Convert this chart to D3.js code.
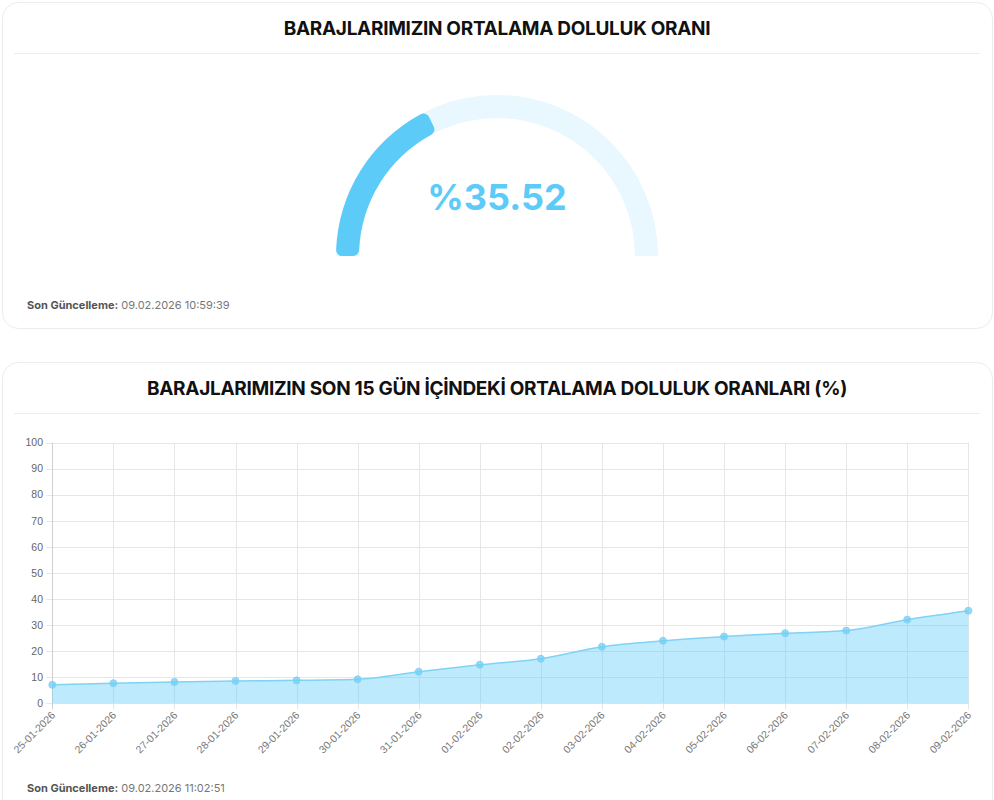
<!DOCTYPE html>
<html>
<head>
<meta charset="utf-8">
<script src="https://cdn.jsdelivr.net/npm/d3@7"></script>
<style>
  html, body { margin: 0; padding: 0; background: #fff; }
  svg { display: block; font-family: Inter, "Noto Sans", sans-serif; }
</style>
</head>
<body>
<div id="chart"></div>
<script>
// data
var gaugeValue = 35.52;
var dates = ["25-01-2026", "26-01-2026", "27-01-2026", "28-01-2026", "29-01-2026",
    "30-01-2026", "31-01-2026", "01-02-2026", "02-02-2026", "03-02-2026",
    "04-02-2026", "05-02-2026", "06-02-2026", "07-02-2026", "08-02-2026", "09-02-2026"];
var fillRates = [7.1, 7.7, 8.2, 8.6, 8.8, 9.2, 12.1, 14.8, 17.1, 21.7, 24.0, 25.6, 26.9, 27.9, 32.1, 35.52];
var yTicks = [0, 10, 20, 30, 40, 50, 60, 70, 80, 90, 100];
var titles = ["BARAJLARIMIZIN ORTALAMA DOLULUK ORANI", "BARAJLARIMIZIN SON 15 GÜN İÇİNDEKİ ORTALAMA DOLULUK ORANLARI (%)"];
var updated = ["09.02.2026 10:59:39", "09.02.2026 11:02:51"];

var attrs = {
    width: 994,
    height: 800,
    blue: "#5ccbf8",
    blueLight: "#e9f7fe",
    textDark: "#111",
    textGrey: "#777",
    grid: "#e6e6e6"
};

var svg = d3.select("#chart").append("svg")
    .attr("width", attrs.width)
    .attr("height", attrs.height);

// cards
var cards = [{y: 2, h: 326}, {y: 362, h: 460}];
cards.forEach(function(c, i){
    svg.append("rect")
        .attr("x", 2.5).attr("y", c.y + 0.5)
        .attr("width", 990).attr("height", c.h)
        .attr("rx", 16).attr("ry", 16)
        .style("fill", "#fff")
        .style("stroke", "#ececec");
    svg.append("text")
        .attr("x", 497).attr("y", c.y + 33)
        .attr("text-anchor", "middle")
        .style("font-size", "19px")
        .style("font-weight", 700)
        .style("letter-spacing", "-0.3px")
        .style("fill", attrs.textDark)
        .text(titles[i]);
    svg.append("line")
        .attr("x1", 14).attr("x2", 980)
        .attr("y1", c.y + 51.5).attr("y2", c.y + 51.5)
        .style("stroke", "#eeeeee");
});

// footers
function footer(y, txt){
    var t = svg.append("text").attr("x", 27).attr("y", y).style("font-size", "11px");
    t.append("tspan").style("font-weight", 700).style("fill", "#555").text("Son Güncelleme:");
    t.append("tspan").style("fill", attrs.textGrey).text(" " + txt);
}
footer(309, updated[0]);
footer(792, updated[1]);

// gauge
var gauge = svg.append("g").attr("transform", "translate(497,256)");
var angle = d3.scaleLinear().domain([0, 100]).range([-Math.PI / 2, Math.PI / 2]);
var arc = d3.arc().innerRadius(138).outerRadius(161);
gauge.append("path")
    .attr("d", arc({startAngle: angle(0), endAngle: angle(100)}))
    .style("fill", attrs.blueLight);
gauge.append("path")
    .attr("d", arc.cornerRadius(6)({startAngle: angle(0), endAngle: angle(gaugeValue)}))
    .style("fill", attrs.blue);
gauge.append("text")
    .attr("x", 0).attr("y", -46)
    .attr("text-anchor", "middle")
    .style("font-size", "36px")
    .style("font-weight", 700)
    .style("fill", attrs.blue)
    .text("%" + gaugeValue.toFixed(2));

// line chart
var plotLeft = 52.3, plotRight = 968.3, plotTop = 442.7, plotBottom = 703.3;
var x = d3.scalePoint().domain(dates).range([plotLeft, plotRight]);
var y = d3.scaleLinear().domain([0, 100]).range([plotBottom, plotTop]);

var chart = svg.append("g");
chart.selectAll(".hgrid").data(yTicks).enter().append("line")
    .attr("x1", plotLeft - 6).attr("x2", plotRight)
    .attr("y1", function(d){ return Math.round(y(d)) + 0.5; })
    .attr("y2", function(d){ return Math.round(y(d)) + 0.5; })
    .style("stroke", attrs.grid);
chart.selectAll(".vgrid").data(dates).enter().append("line")
    .attr("x1", function(d){ return Math.round(x(d)) + 0.5; })
    .attr("x2", function(d){ return Math.round(x(d)) + 0.5; })
    .attr("y1", plotTop).attr("y2", plotBottom + 6)
    .style("stroke", function(d, i){ return i === 0 ? "#cfcfcf" : attrs.grid; });

chart.selectAll(".ylab").data(yTicks).enter().append("text")
    .attr("x", 43).attr("y", function(d){ return y(d); })
    .attr("dy", "0.35em")
    .attr("text-anchor", "end")
    .style("font-family", "Arial, 'Liberation Sans', sans-serif")
    .style("font-size", "10.5px")
    .style("fill", "#666")
    .text(function(d){ return d; });

chart.selectAll(".xlab").data(dates).enter().append("text")
    .attr("transform", function(d){ return "translate(" + (x(d) + 1) + "," + (plotBottom + 10) + ") rotate(-45)"; })
    .attr("text-anchor", "end")
    .attr("dy", "0.35em")
    .style("font-family", "Arial, 'Liberation Sans', sans-serif")
    .style("font-size", "10.5px")
    .style("fill", "#777")
    .text(function(d){ return d; });

var area = d3.area()
    .x(function(d, i){ return x(dates[i]); })
    .y0(plotBottom)
    .y1(function(d){ return y(d); })
    .curve(d3.curveMonotoneX);
var line = d3.line()
    .x(function(d, i){ return x(dates[i]); })
    .y(function(d){ return y(d); })
    .curve(d3.curveMonotoneX);

chart.append("path").datum(fillRates)
    .attr("d", area)
    .style("fill", "rgba(91, 203, 248, 0.4)");
chart.append("path").datum(fillRates)
    .attr("d", line)
    .style("fill", "none")
    .style("stroke", "#7fd3f5")
    .style("stroke-width", 1.5);
chart.selectAll(".pt").data(fillRates).enter().append("circle")
    .attr("cx", function(d, i){ return x(dates[i]); })
    .attr("cy", function(d){ return y(d); })
    .attr("r", 3.5)
    .style("fill", "rgba(110, 205, 245, 0.75)")
    .style("stroke", "#86d4f3")
    .style("stroke-width", 1);
</script>
</body>
</html>
